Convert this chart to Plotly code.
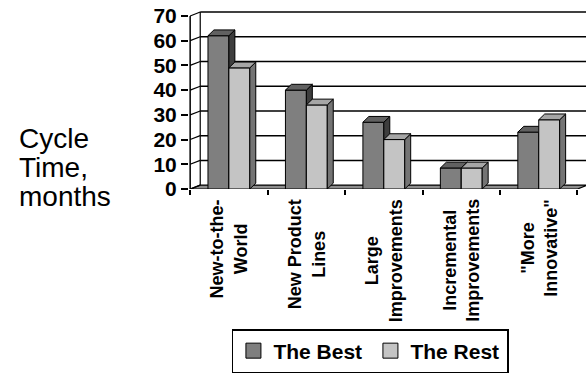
import plotly.graph_objects as go

# ---- data -------------------------------------------------------------
categories = [
    "New-to-the-<br>World",
    "New Product<br>Lines",
    "Large<br>Improvements",
    "Incremental<br>Improvements",
    "\"More<br>Innovative\"",
]
best = [62, 40, 27, 8.5, 23]
rest = [49, 34, 20, 8.5, 28]
series_names = ["The Best", "The Rest"]
y_ticks = [0, 10, 20, 30, 40, 50, 60, 70]
y_title_lines = ["Cycle", "Time,", "months"]

# ---- styling / geometry ----------------------------------------------
FONT = "Liberation Sans, Arial, sans-serif"
BAR_W = 0.27          # width of one column (category units)
DX, DY = 0.077, 2.35  # depth offset of the column boxes
WX, WY = 0.13, 1.57   # depth offset of wall and floor
X_RANGE = [-0.515, 4.61]
Y_RANGE = [0, 72]

BEST_COL = dict(front="#7f7f7f", top="#616161", side="#3e3e3e")
REST_COL = dict(front="#c4c4c4", top="#a6a6a6", side="#747474")

pos = list(range(len(categories)))


def box_faces(values, offset):
    """Top and right-side faces of 3D columns, as gap-separated polygons."""
    tx, ty, sx, sy = [], [], [], []
    for p, v in zip(pos, values):
        xl = p + offset
        xr = xl + BAR_W
        tx += [xl, xr, xr + DX, xl + DX, xl, None]
        ty += [v, v, v + DY, v + DY, v, None]
        sx += [xr, xr + DX, xr + DX, xr, xr, None]
        sy += [0, DY, v + DY, v, 0, None]
    return tx, ty, sx, sy


fig = go.Figure()

# second series lives on an overlaid axis pair so its front faces are
# painted over the side faces of the first series
series = [
    (series_names[0], best, -BAR_W, BEST_COL, "x", "y"),
    (series_names[1], rest, 0.0, REST_COL, "x2", "y2"),
]

for name, vals, off, col, xa, ya in series:
    fig.add_trace(go.Bar(
        x=pos, y=vals, width=BAR_W, offset=off, name=name,
        marker=dict(color=col["front"], line=dict(color="black", width=1)),
        showlegend=False, xaxis=xa, yaxis=ya, hoverinfo="skip",
    ))
    tx, ty, sx, sy = box_faces(vals, off)
    fig.add_trace(go.Scatter(
        x=sx, y=sy, mode="lines", fill="toself", fillcolor=col["side"],
        line=dict(color="black", width=1), showlegend=False,
        xaxis=xa, yaxis=ya, hoverinfo="skip",
    ))
    fig.add_trace(go.Scatter(
        x=tx, y=ty, mode="lines", fill="toself", fillcolor=col["top"],
        line=dict(color="black", width=1), showlegend=False,
        xaxis=xa, yaxis=ya, hoverinfo="skip",
    ))

# legend entries
for name, col in zip(series_names, [BEST_COL, REST_COL]):
    fig.add_trace(go.Scatter(
        x=[None], y=[None], mode="markers", name=name,
        marker=dict(symbol="square", size=15, color=col["front"],
                    line=dict(color="black", width=1)),
    ))

shapes = []
x0, x1 = -0.5, len(categories) - 0.5
# floor
shapes.append(dict(
    type="path", xref="x", yref="y", layer="below",
    path=f"M{x0},0 L{x1},0 L{x1 + WX},{WY} L{x0 + WX},{WY} Z",
    fillcolor="#8c8c8c", line=dict(color="black", width=1.2),
))
# back-wall gridlines and left wall edges
for v in y_ticks[1:]:
    shapes.append(dict(type="line", xref="x", yref="y", layer="below",
                       x0=x0 + WX, x1=x1 + WX + 0.2, y0=v + WY, y1=v + WY,
                       line=dict(color="black", width=1.5)))
for v in y_ticks:
    shapes.append(dict(type="line", xref="x", yref="y", layer="below",
                       x0=x0, x1=x0 + WX, y0=v, y1=v + WY,
                       line=dict(color="black", width=1.2)))
shapes.append(dict(type="line", xref="x", yref="y", layer="below",
                   x0=x0 + WX, x1=x0 + WX, y0=WY, y1=y_ticks[-1] + WY,
                   line=dict(color="black", width=1.2)))
shapes.append(dict(type="line", xref="x", yref="y", layer="below",
                   x0=x0, x1=x0, y0=0, y1=y_ticks[-1],
                   line=dict(color="black", width=1.5)))

annotations = []
for p, label in zip(pos, categories):
    annotations.append(dict(
        x=p, xref="x", y=-0.045, yref="paper", text=label, showarrow=False,
        textangle=-90, xanchor="center", yanchor="top", align="center",
        font=dict(family=FONT, size=18, color="black", weight="bold"),
    ))
# axis title, one annotation per line for tight line spacing
for k, line in enumerate(y_title_lines):
    annotations.append(dict(
        x=-0.433, xref="paper", y=0.2826 - k * 0.163, yref="paper",
        text=line, showarrow=False, xanchor="left", yanchor="middle",
        font=dict(family=FONT, size=28, color="black"),
    ))

fig.update_layout(
    width=586, height=373,
    margin=dict(l=189, r=0, t=11, b=178),
    paper_bgcolor="white", plot_bgcolor="white",
    barmode="overlay",
    shapes=shapes, annotations=annotations,
    xaxis=dict(range=X_RANGE, showgrid=False, zeroline=False, showline=False,
               tickmode="array", tickvals=[i - 0.5 for i in range(len(categories) + 1)],
               ticks="outside", ticklen=5, tickwidth=1.5, tickcolor="black",
               showticklabels=False, fixedrange=True),
    yaxis=dict(range=Y_RANGE, showgrid=False, zeroline=False, showline=False,
               tickmode="array", tickvals=y_ticks,
               ticks="outside", ticklen=7, tickwidth=1.5, tickcolor="black",
               tickfont=dict(family=FONT, size=21, color="black", weight="bold"),
               fixedrange=True),
    xaxis2=dict(range=X_RANGE, overlaying="x", anchor="y2", visible=False,
                fixedrange=True),
    yaxis2=dict(range=Y_RANGE, overlaying="y", anchor="x2", visible=False,
                fixedrange=True),
    legend=dict(orientation="h", x=0.457, xanchor="center", y=-0.79,
                yanchor="top", bordercolor="black", borderwidth=1.5,
                font=dict(family=FONT, size=21, color="black", weight="bold"),
                bgcolor="white", itemwidth=30, entrywidth=92),
    showlegend=True,
)

fig.write_html("out.html")
